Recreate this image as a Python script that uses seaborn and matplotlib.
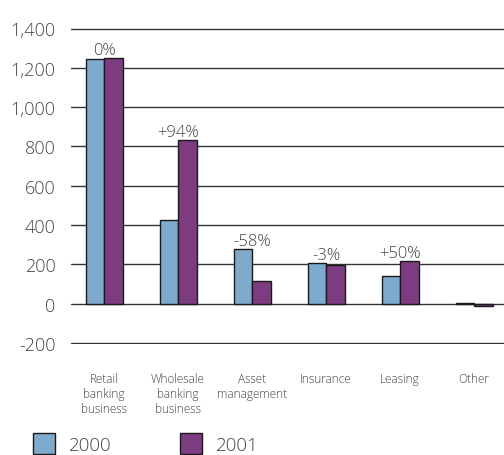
import matplotlib
matplotlib.use("Agg")
import matplotlib.pyplot as plt
from matplotlib.patches import Patch
import seaborn as sns
import pandas as pd

categories = ["Retail\nbanking\nbusiness", "Wholesale\nbanking\nbusiness", "Asset\nmanagement",
              "Insurance", "Leasing", "Other"]
years = ["2000", "2001"]
values_2000 = [1244, 428, 276, 206, 143, 3]
values_2001 = [1252, 832, 114, 199, 215, -14]
change_labels = ["0%", "+94%", "-58%", "-3%", "+50%", ""]
yticks = [-200, 0, 200, 400, 600, 800, 1000, 1200, 1400]
colors = ["#7eaacd", "#7d3b80"]

df = pd.DataFrame({
    "category": categories * 2,
    "year": [years[0]] * len(categories) + [years[1]] * len(categories),
    "value": values_2000 + values_2001,
})

sns.set_theme(style="white")
plt.rcParams["font.family"] = ["Open Sans", "DejaVu Sans"]
plt.rcParams["font.weight"] = "light"

W, H = 504, 456
fig = plt.figure(figsize=(W / 100, H / 100), dpi=100)
ylo, yhi = -204, 1404
left_px, right_px = 71, 504
top_px = 29.5 - 4 * 314.5 / 1600
bot_px = 344 + 4 * 314.5 / 1600
ax = fig.add_axes([left_px / W, 1 - bot_px / H, (right_px - left_px) / W, (bot_px - top_px) / H])

sns.barplot(data=df, x="category", y="value", hue="year", hue_order=years,
            order=categories, palette=colors, saturation=1, width=0.5, gap=0, dodge=True,
            edgecolor="#1a1a1a", linewidth=1.0, legend=False, ax=ax, zorder=3)

ax.set_ylim(ylo, yhi)
ax.set_xlim(-0.446, 5.405)
ax.set_yticks(yticks)
ax.set_yticklabels([f"{t:,}" for t in yticks])
ax.yaxis.grid(True, color="#333333", linewidth=1.0, zorder=0)
ax.xaxis.grid(False)
for s in ax.spines.values():
    s.set_visible(False)
ax.tick_params(axis="y", length=0, pad=11, labelsize=13, labelcolor="#444444")
ax.tick_params(axis="x", length=0, pad=20, labelsize=8.5, labelcolor="#444444")
for lab in ax.get_xticklabels():
    lab.set_linespacing(1.2)
ax.set_xlabel("")
ax.set_ylabel("")

for i, lab in enumerate(change_labels):
    if lab:
        top = max(values_2000[i], values_2001[i])
        ax.annotate(lab, (i, top), xytext=(0, 0), textcoords="offset points",
                    ha="center", va="bottom", fontsize=12, color="#444444")

handles = [Patch(facecolor=c, edgecolor="#1a1a1a", linewidth=1.0) for c in colors]
fig.legend(handles, years, loc="lower left", bbox_to_anchor=(33 / W, 1 / H),
           ncol=2, frameon=False, fontsize=13.5, handlelength=1.17, handleheight=1.33,
           handletextpad=0.75, columnspacing=3.65, borderpad=0, borderaxespad=0,
           labelcolor="#444444")

fig.savefig("out.png", dpi=100)
